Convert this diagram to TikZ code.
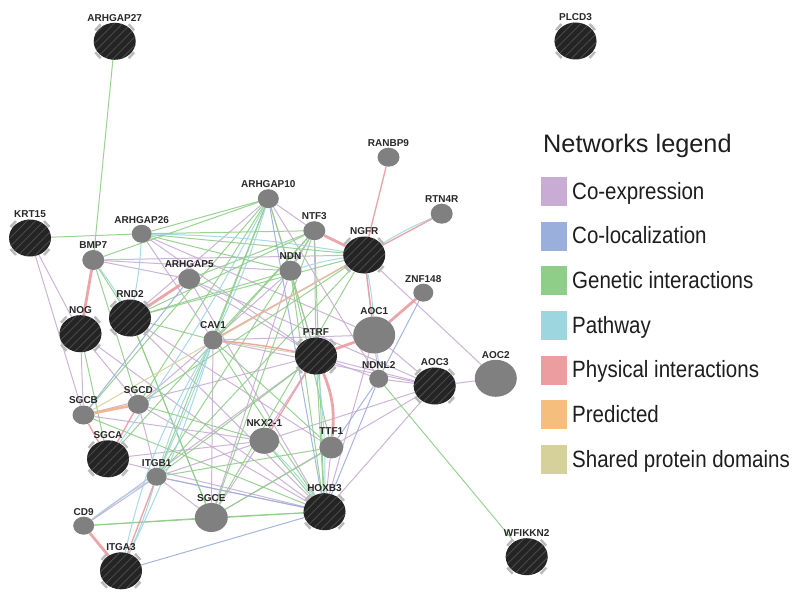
\documentclass[tikz,border=0pt]{standalone}
\usepackage{fontspec}
\setmainfont{Liberation Sans}
\usetikzlibrary{shapes.geometric,patterns.meta}
\definecolor{coexp}{RGB}{200,172,212}
\definecolor{coloc}{RGB}{155,175,220}
\definecolor{genet}{RGB}{143,206,136}
\definecolor{pathw}{RGB}{158,214,224}
\definecolor{phys}{RGB}{235,157,160}
\definecolor{pred}{RGB}{245,190,125}
\definecolor{shared}{RGB}{214,208,155}
\definecolor{ngray}{RGB}{128,128,128}
\definecolor{qfill}{RGB}{36,36,36}
\definecolor{qstripe}{RGB}{74,74,74}
\definecolor{lblc}{RGB}{40,40,40}
\definecolor{legtext}{RGB}{30,30,30}
\definecolor{mkgray}{RGB}{185,185,185}
\pgfdeclarelayer{bglayer}
\pgfdeclarelayer{edgelayer}
\pgfdeclarelayer{marklayer}
\pgfsetlayers{bglayer,edgelayer,marklayer,main}
\begin{document}
\begin{tikzpicture}[x=1pt,y=-1pt,
  qn/.style={ellipse, inner sep=0, minimum width=42, minimum height=37, fill=qfill,
    postaction={pattern={Lines[angle=45,distance=6pt,line width=0.9pt]}, pattern color=qstripe}},
  gn/.style 2 args={ellipse, inner sep=0, minimum width=#1, minimum height=#2, fill=ngray},
  lbl/.style={font=\bfseries\fontsize{10}{12}\selectfont, text=lblc, inner sep=1.2pt},
  every label/.style={label distance=0pt},
  cornermk/.style={line width=2.4pt, color=mkgray},
  ed/.style={line width=1pt, opacity=0.9},
  lcoexp/.style={ed, draw=coexp},
  lcoloc/.style={ed, draw=coloc},
  lgenet/.style={ed, draw=genet},
  lpathw/.style={ed, draw=pathw},
  lphys/.style={line width=1.4pt, draw=phys, opacity=0.9},
  lphysthick/.style={line width=2.8pt, draw=phys, opacity=0.9},
  lpred/.style={line width=2.8pt, draw=pred!60!phys, opacity=0.9},
  lshared/.style={ed, draw=shared},
  swatch/.style={rectangle, inner sep=0, minimum width=26, minimum height=29},
  litem/.style={anchor=base west, inner sep=0, text=legtext, font=\fontsize{20.5}{24}\selectfont}
]
\begin{pgfonlayer}{bglayer}
\fill[white] (0,0) rectangle (797,596);
\end{pgfonlayer}
\useasboundingbox (0,0) rectangle (797,596);

% nodes
\node[qn,label={[lbl]above:ARHGAP27}] (A27) at (114.7,41.3) {};
\node[qn,label={[lbl]above:PLCD3}] (PL) at (575.5,41) {};
\node[qn,label={[lbl]above:KRT15}] (KR) at (30,238) {};
\node[gn={20}{18},label={[lbl]above:ARHGAP26}] (A26) at (141.7,233.8) {};
\node[gn={22}{20},label={[lbl]above:BMP7}] (BM) at (93.3,260) {};
\node[gn={22}{20},label={[lbl]above:ARHGAP5}] (A5) at (189.2,279) {};
\node[qn,label={[lbl]above:RND2}] (RN) at (130,318) {};
\node[qn,label={[lbl]above:NOG}] (NO) at (80.5,333.7) {};
\node[gn={19}{19},label={[lbl]above:CAV1}] (CA) at (213,340) {};
\node[gn={21}{19},label={[lbl]above:ARHGAP10}] (A10) at (268.3,198.7) {};
\node[gn={22}{19},label={[lbl]above:NTF3}] (NT) at (314.3,230.7) {};
\node[qn,label={[lbl]above:NGFR}] (NG) at (364.2,255) {};
\node[gn={22}{20},label={[lbl]above:NDN}] (ND) at (290.5,270.7) {};
\node[gn={20}{18},label={[lbl]above:ZNF148}] (ZN) at (423.3,292.7) {};
\node[gn={42}{37},label={[lbl]above:AOC1}] (AO1) at (374.2,335) {};
\node[qn,label={[lbl]above:PTRF}] (PT) at (316,356) {};
\node[gn={22}{19},label={[lbl]above:RANBP9}] (RA) at (388.5,157.2) {};
\node[gn={22}{20},label={[lbl]above:RTN4R}] (RT) at (441.7,213.7) {};
\node[gn={19}{18},label={[lbl]above:NDNL2}] (NL) at (378.7,378.8) {};
\node[qn,label={[lbl]above:AOC3}] (AO3) at (434.7,386) {};
\node[gn={42}{37},label={[lbl]above:AOC2}] (AO2) at (495.8,378.3) {};
\node[gn={30}{26},label={[lbl]above:NKX2-1}] (NK) at (264.3,440.8) {};
\node[gn={24}{22},label={[lbl]above:TTF1}] (TT) at (331.3,447.5) {};
\node[qn,label={[lbl]above:HOXB3}] (HO) at (324.5,511.7) {};
\node[gn={33}{29},label={[lbl]above:SGCE}] (SE) at (211.3,517.5) {};
\node[qn,label={[lbl]above:WFIKKN2}] (WF) at (526.7,556.7) {};
\node[gn={22}{19},label={[lbl]above:SGCB}] (SB) at (83.5,415) {};
\node[gn={21}{19},label={[lbl]above:SGCD}] (SD) at (138.3,404.3) {};
\node[qn,label={[lbl]above:SGCA}] (SA) at (108,458.8) {};
\node[gn={20}{18},label={[lbl]above:ITGB1}] (IB) at (156.7,476.7) {};
\node[gn={21}{18},label={[lbl]above:CD9}] (CD) at (83.7,525.7) {};
\node[qn,label={[lbl]above:ITGA3}] (IA) at (121,570.8) {};

% corner marks of query genes
\begin{pgfonlayer}{marklayer}
\foreach \n in {A27,PL,KR,NO,RN,NG,PT,AO3,HO,WF,SA,IA}{
  \draw[cornermk] ([shift={(-19.5,-11)}]\n.center) -- ([shift={(-14,-17)}]\n.center);
  \draw[cornermk] ([shift={(19.5,-11)}]\n.center) -- ([shift={(14,-17)}]\n.center);
  \draw[cornermk] ([shift={(-19.5,11)}]\n.center) -- ([shift={(-14,17)}]\n.center);
  \draw[cornermk] ([shift={(19.5,11)}]\n.center) -- ([shift={(14,17)}]\n.center);
}
\end{pgfonlayer}

% edges
\begin{pgfonlayer}{edgelayer}
\foreach \a/\b in {KR/NO, BM/NG, BM/ND, A26/CA, A26/PT, A26/AO1, A10/ND, A10/NT, A10/RN, A10/NL,
  NT/ND, NT/PT, ND/PT, ND/SE, ND/CA, NG/AO2, NG/NL, AO1/AO3, AO1/HO, PT/AO3, PT/NL, PT/SB,
  PT/SE, PT/CD, NL/AO3, AO3/AO2, AO3/HO, AO3/SE, AO3/NK, AO3/CA, CA/SE, CA/AO1, CA/SD,
  NK/IB, NK/SB, TT/HO, HO/IB, HO/SA, HO/SD, HO/A5, HO/RN, SE/IB, IB/CD, NO/SB, NO/SD,
  NO/HO, RN/TT, SA/NK, SD/IB, A5/PT, A5/AO3, BM/A5, KR/SB}
  \draw[lcoexp] (\a) -- (\b);
\foreach \a/\b in {A27/BM, KR/A26, A26/NT, A26/NG, A26/A10, A26/ND, BM/RN, BM/SD, A10/CA,
  A10/SD, A10/PT, A10/SB, A10/IB, NT/CA, NT/SA, NT/HO, NT/IB, NT/SE, NT/RN, ND/HO, ND/TT,
  ND/RN, NG/SD, NG/IB, NG/SE, PT/HO, PT/IB, NL/WF, CA/HO, CA/TT, CA/RN, NK/SD, NK/HO,
  TT/SE, TT/IB, HO/SE, HO/CD, HO/SB, SE/CD, SE/RN, SA/NO, A5/NT, RN/SE, A10/BM, NG/RN}
  \draw[lgenet] (\a) -- (\b);
\foreach \a/\b in {NG/RT, NG/AO1, ND/NG, A26/RN, BM/RN, CA/IA, IB/IA, NK/HO, PT/HO,
  AO1/NL, A10/SA, A10/CA, CD/IB, A26/NG}
  \draw[lpathw] (\a) to[bend left=4] (\b);
\draw[lpathw] (CA) to[bend right=5] (IB);
\draw[lpathw] (CA) to[bend left=2] (IB);
\draw[lpathw] (CA) to[bend right=9] (IA);
\foreach \a/\b in {A5/SB, ZN/NL, NL/HO, NL/TT, IA/HO, IB/HO, A10/HO}
  \draw[lcoloc] (\a) -- (\b);
\foreach \a/\b in {NG/RA, NG/RT, NG/AO1, NG/CA, PT/NK, SB/SA, SD/SA, IB/IA}
  \draw[lphys] (\a) -- (\b);
\foreach \a/\b in {CA/PT, NG/SB}
  \draw[lshared] (\a) -- (\b);
\draw[lphys] (CA) to[bend left=3] (PT);
\foreach \a/\b in {BM/NO, A5/RN, NT/NG, ZN/AO1, AO1/PT, CD/IA}
  \draw[lphysthick] (\a) -- (\b);
\draw[lpred] (SB) -- (SD);
\draw[lphysthick] (PT) to[bend left=14] (TT);
\end{pgfonlayer}

% legend
\node[anchor=base west, inner sep=0, text=legtext, font=\fontsize{25.3}{30}\selectfont] (lt) at (543,153) {Networks legend};
\node[swatch, fill=coexp] (s1) at (554,191.5) {};
\node[litem] (t1) at (572,199) {\scalebox{1}[1.15]{Co-expression}};
\node[swatch, fill=coloc] (s2) at (554,236.2) {};
\node[litem] (t2) at (572,243.7) {\scalebox{1}[1.15]{Co-localization}};
\node[swatch, fill=genet] (s3) at (554,280.8) {};
\node[litem] (t3) at (572,288.3) {\scalebox{1}[1.15]{Genetic interactions}};
\node[swatch, fill=pathw] (s4) at (554,325.5) {};
\node[litem] (t4) at (572,333) {\scalebox{1}[1.15]{Pathway}};
\node[swatch, fill=phys] (s5) at (554,370.2) {};
\node[litem] (t5) at (572,377.7) {\scalebox{1}[1.15]{Physical interactions}};
\node[swatch, fill=pred] (s6) at (554,414.8) {};
\node[litem] (t6) at (572,422.3) {\scalebox{1}[1.15]{Predicted}};
\node[swatch, fill=shared] (s7) at (554,459.5) {};
\node[litem] (t7) at (572,467) {\scalebox{1}[1.15]{Shared protein domains}};
\end{tikzpicture}
\end{document}
